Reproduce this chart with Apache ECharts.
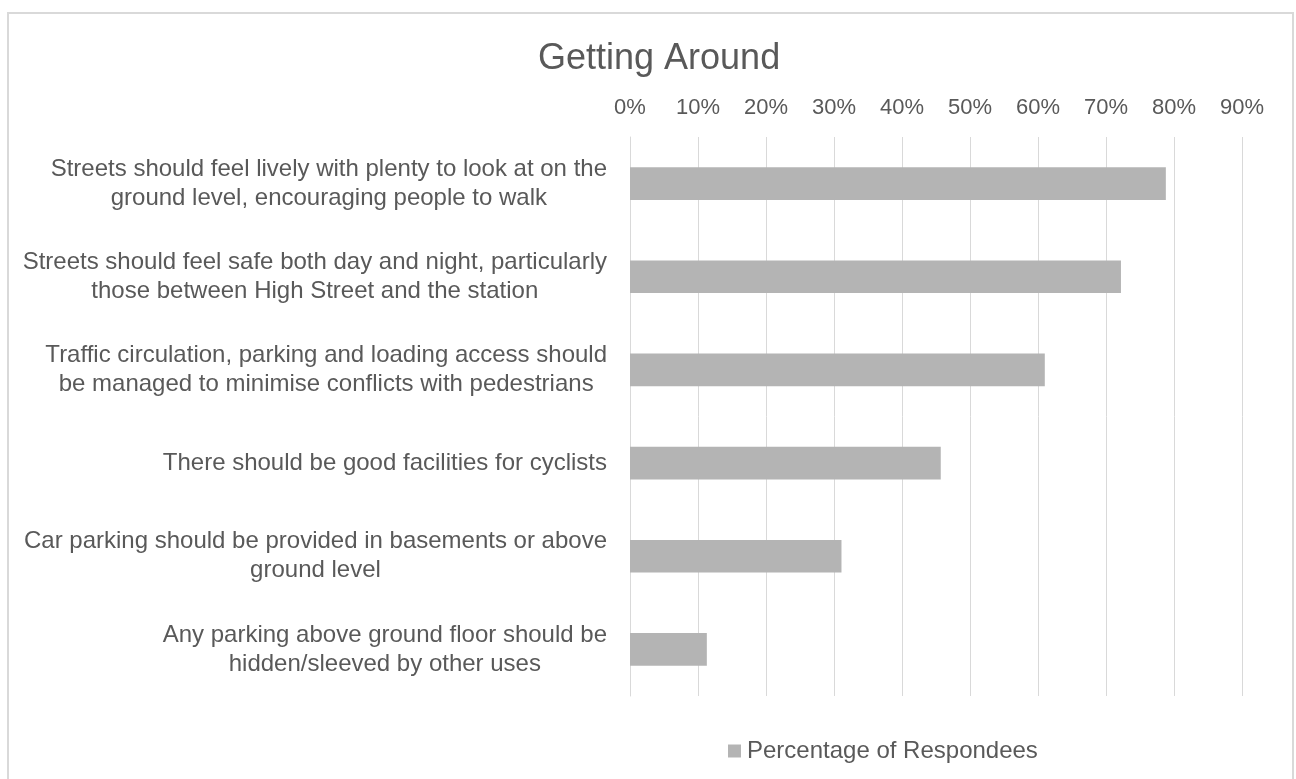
<!DOCTYPE html>
<html>
<head>
<meta charset="utf-8">
<script src="https://cdn.jsdelivr.net/npm/echarts@6/dist/echarts.min.js"></script>
<style>
  html, body { margin: 0; padding: 0; background: #ffffff; }
  #chart { width: 1296px; height: 779px; }
</style>
</head>
<body>
<div id="chart"></div>
<script>
const titleText = 'Getting Around';
const seriesName = 'Percentage of Respondees';
const categories = [
  'Streets should feel lively with plenty to look at on the\nground level, encouraging people to walk',
  'Streets should feel safe both day and night, particularly\nthose between High Street and the station',
  'Traffic circulation, parking and loading access should\nbe managed to minimise conflicts with pedestrians',
  'There should be good facilities for cyclists',
  'Car parking should be provided in basements or above\nground level',
  'Any parking above ground floor should be\nhidden/sleeved by other uses'
];
const values = [78.8, 72.2, 61.0, 45.7, 31.1, 11.3];
const axisMin = 0;
const axisMax = 90;
const axisStep = 10;

const textColor = '#595959';
const fontFamily = '"Liberation Sans", Arial, sans-serif';

const chart = echarts.init(document.getElementById('chart'), null, { renderer: 'canvas' });
chart.setOption({
  animation: false,
  backgroundColor: '#ffffff',
  graphic: [{
    type: 'rect',
    shape: { x: 8, y: 13, width: 1285, height: 820 },
    style: { fill: 'none', stroke: '#d9d9d9', lineWidth: 2 },
    silent: true
  }],
  title: {
    text: titleText,
    left: 533,
    top: 36,
    textStyle: { color: textColor, fontSize: 36, fontWeight: 'normal', fontFamily: fontFamily }
  },
  legend: {
    data: [seriesName],
    left: 723,
    top: 734,
    icon: 'rect',
    itemWidth: 13,
    itemHeight: 13,
    itemGap: 6,
    textStyle: { color: textColor, fontSize: 24, fontFamily: fontFamily, padding: [0, 0, 0, 1] }
  },
  grid: { left: 630, right: 54, top: 137, bottom: 83, containLabel: false },
  xAxis: {
    type: 'value',
    position: 'top',
    min: axisMin,
    max: axisMax,
    interval: axisStep,
    axisLine: { show: false },
    axisTick: { show: false },
    splitLine: { show: true, lineStyle: { color: '#d9d9d9', width: 1 } },
    axisLabel: {
      margin: 18,
      color: textColor,
      fontSize: 22,
      fontFamily: fontFamily,
      formatter: '{value}%'
    }
  },
  yAxis: {
    type: 'category',
    inverse: true,
    data: categories,
    axisLine: { show: true, lineStyle: { color: '#d9d9d9', width: 1 } },
    axisTick: { show: false },
    axisLabel: {
      margin: 23,
      interval: 0,
      formatter: function (v) {
        return v.split('\n').map(function (l) { return '{c|' + l + '}'; }).join('\n');
      },
      rich: {
        c: { color: textColor, fontSize: 24, lineHeight: 29, fontFamily: fontFamily, align: 'center' }
      }
    }
  },
  series: [{
    name: seriesName,
    type: 'bar',
    data: values,
    barCategoryGap: '65%',
    itemStyle: { color: '#b4b4b4' }
  }]
});
</script>
</body>
</html>
